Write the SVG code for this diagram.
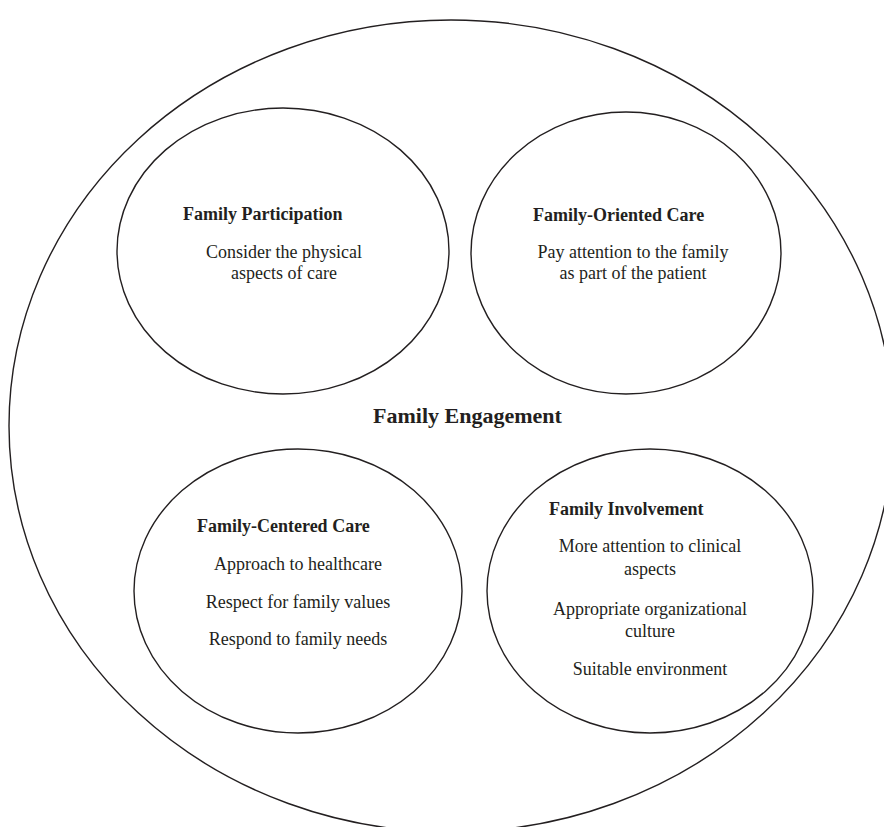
<svg xmlns="http://www.w3.org/2000/svg" width="884" height="827" viewBox="0 0 884 827">
<style>
.e{fill:none;stroke:#231f20;stroke-width:1.4}
.h{font-family:"Liberation Serif","Times New Roman",serif;font-weight:bold;font-size:18px;fill:#231f20}
.t{font-family:"Liberation Serif","Times New Roman",serif;font-size:18px;fill:#231f20;text-anchor:middle}
.m{font-family:"Liberation Serif","Times New Roman",serif;font-weight:bold;font-size:22px;fill:#231f20}
</style>
<rect width="884" height="827" fill="#fff"/>
<g id="family-engagement">
<ellipse class="e" cx="451" cy="426" rx="442" ry="406"/>
<text class="m" x="373" y="423">Family Engagement</text>
</g>
<g id="family-participation">
<ellipse class="e" cx="283" cy="251" rx="166" ry="143"/>
<text class="h" x="183" y="220">Family Participation</text>
<text class="t" x="284" y="258">Consider the physical</text>
<text class="t" x="284" y="279">aspects of care</text>
</g>
<g id="family-oriented-care">
<ellipse class="e" cx="626" cy="253" rx="155" ry="141"/>
<text class="h" x="533" y="221">Family-Oriented Care</text>
<text class="t" x="633" y="258">Pay attention to the family</text>
<text class="t" x="633" y="279">as part of the patient</text>
</g>
<g id="family-centered-care">
<ellipse class="e" cx="298" cy="591" rx="164" ry="142"/>
<text class="h" x="197" y="532">Family-Centered Care</text>
<text class="t" x="298" y="570">Approach to healthcare</text>
<text class="t" x="298" y="608">Respect for family values</text>
<text class="t" x="298" y="645">Respond to family needs</text>
</g>
<g id="family-involvement">
<ellipse class="e" cx="650" cy="591" rx="163" ry="142"/>
<text class="h" x="549" y="515">Family Involvement</text>
<text class="t" x="650" y="552">More attention to clinical</text>
<text class="t" x="650" y="575">aspects</text>
<text class="t" x="650" y="615">Appropriate organizational</text>
<text class="t" x="650" y="637">culture</text>
<text class="t" x="650" y="675">Suitable environment</text>
</g>
<g id="connectors"></g>
</svg>
